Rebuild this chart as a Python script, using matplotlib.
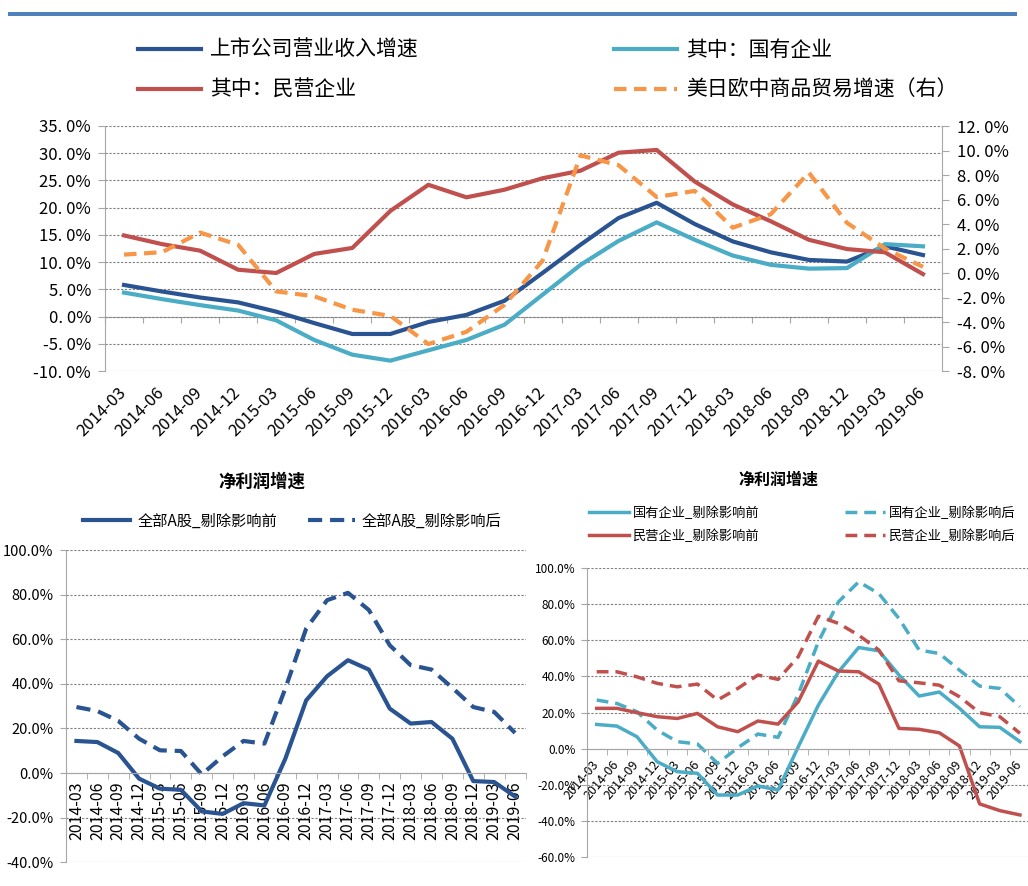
import numpy as np
import matplotlib
matplotlib.use('Agg')
import matplotlib.pyplot as plt
from matplotlib.patches import Rectangle
from matplotlib.ticker import MultipleLocator, FuncFormatter, NullFormatter

plt.rcParams['font.family'] = ['Noto Sans CJK SC', 'DejaVu Sans']
plt.rcParams['axes.unicode_minus'] = False

# ---- data ----
quarters = ['2014-03', '2014-06', '2014-09', '2014-12', '2015-03', '2015-06',
            '2015-09', '2015-12', '2016-03', '2016-06', '2016-09', '2016-12',
            '2017-03', '2017-06', '2017-09', '2017-12', '2018-03', '2018-06',
            '2018-09', '2018-12', '2019-03', '2019-06']

# revenue growth (%), left axis
revenue_all = [5.8, 4.6, 3.5, 2.6, 0.9, -1.2, -3.2, -3.2, -1.0, 0.3, 2.9,
               8.0, 13.2, 18.1, 20.9, 17.0, 13.8, 11.8, 10.4, 10.1, 12.9, 11.3]
revenue_soe = [4.4, 3.2, 2.1, 1.1, -0.7, -4.3, -7.0, -8.1, -6.2, -4.3, -1.5,
               4.0, 9.5, 13.9, 17.3, 14.1, 11.2, 9.5, 8.8, 8.9, 13.3, 12.9]
revenue_private = [14.9, 13.3, 12.1, 8.6, 8.0, 11.5, 12.6, 19.4, 24.2, 21.9, 23.3,
                   25.4, 26.8, 30.1, 30.6, 24.8, 20.6, 17.5, 14.1, 12.4, 11.8, 7.8]
# US/Japan/EU/China goods trade growth (%), right axis
trade_growth = [1.5, 1.7, 3.3, 2.3, -1.5, -1.9, -3.0, -3.5, -5.8, -4.8, -2.6,
                1.0, 9.6, 8.8, 6.2, 6.7, 3.7, 4.8, 8.2, 4.1, 2.0, 0.5]

# net profit growth (%), all A shares
profit_all_before = [14.4, 13.9, 9.0, -2.5, -7.0, -7.5, -17.2, -18.3, -13.5, -14.5, 6.4,
                     32.6, 43.4, 50.6, 46.4, 28.9, 22.2, 22.9, 15.4, -3.6, -4.0, -10.5]
profit_all_after = [29.6, 27.8, 23.4, 15.4, 10.2, 9.9, -0.6, 7.5, 14.4, 13.2, 37.9,
                    64.8, 77.5, 80.8, 73.1, 57.3, 48.4, 46.4, 38.2, 29.6, 27.4, 18.0]

# net profit growth (%), SOE vs private
profit_soe_before = [13.4, 12.5, 6.6, -7.2, -12.7, -13.6, -25.6, -25.6, -20.6, -22.8, 1.0,
                     24.1, 42.5, 55.9, 54.1, 40.7, 29.1, 31.3, 22.3, 12.1, 11.8, 3.9]
profit_soe_after = [26.9, 25.0, 20.4, 10.3, 3.9, 2.6, -8.1, 0.5, 8.1, 6.3, 30.0,
                    59.1, 81.2, 92.2, 85.7, 71.9, 54.5, 52.6, 43.4, 34.6, 33.3, 23.2]
profit_private_before = [22.3, 22.3, 19.9, 17.7, 16.7, 19.5, 12.1, 9.4, 15.3, 13.6, 25.9,
                         48.4, 42.9, 42.5, 35.7, 11.2, 10.7, 8.8, 1.5, -30.5, -34.2, -36.6]
profit_private_after = [42.5, 42.5, 39.7, 36.1, 34.2, 35.7, 26.9, 33.3, 40.7, 38.3, 50.8,
                        73.2, 69.2, 62.7, 54.5, 37.5, 36.4, 35.1, 28.7, 19.9, 17.7, 8.5]

DARK = '#2A5491'
LIGHT = '#4BACC6'
RED = '#C0504D'
ORANGE = '#F79646'
GRID = '#7F7F7F'
AXIS = '#A6A6A6'

W, H = 1028, 886
fig = plt.figure(figsize=(W / 100, H / 100), dpi=100)


def frac(left, top, right, bottom):
    return [left / W, 1 - bottom / H, (right - left) / W, (bottom - top) / H]


def pct_spaced(v, pos):
    return f'{v:.1f}%'.replace('.', '. ')


def pct(v, pos):
    return f'{v:.1f}%'


x = np.arange(len(quarters))
bounds = np.arange(-0.5, len(quarters), 1.0)

# header stripe
fig.add_artist(Rectangle((8 / W, 1 - 16 / H), 1009 / W, 4 / H,
                         transform=fig.transFigure, color='#4F81BD', lw=0))

# ================= top chart =================
ax = fig.add_axes(frac(105, 126, 942, 371))
l_all, = ax.plot(x, revenue_all, color=DARK, lw=3, label='上市公司营业收入增速')
l_soe, = ax.plot(x, revenue_soe, color=LIGHT, lw=3, label='其中：国有企业')
l_pri, = ax.plot(x, revenue_private, color=RED, lw=3, label='其中：民营企业')
ax.set_xlim(-0.5, len(quarters) - 0.5)
ax.set_ylim(-10, 35)
ax.yaxis.set_major_locator(MultipleLocator(5))
ax.yaxis.set_major_formatter(FuncFormatter(pct_spaced))
ax.grid(axis='y', color=GRID, ls=(0, (2, 1.5)), lw=0.8)
ax.set_axisbelow(True)
for s in ['top', 'bottom']:
    ax.spines[s].set_visible(False)
ax.spines['left'].set_color(AXIS)
ax.spines['right'].set_visible(False)
ax.set_xticks(x)
ax.set_xticklabels(quarters, rotation=45, ha='right', va='center',
                   rotation_mode='anchor', fontsize=12)
ax.tick_params(axis='x', length=0, pad=14)
ax.tick_params(axis='y', length=5, color=AXIS, labelsize=12, pad=5)

zero_loc = (0 - ax.get_ylim()[0]) / (ax.get_ylim()[1] - ax.get_ylim()[0])
sec = ax.secondary_xaxis(zero_loc)
sec.set_xticks(bounds)
sec.xaxis.set_major_formatter(NullFormatter())
sec.tick_params(length=4, color=AXIS, direction='out')
sec.spines['bottom'].set_color(AXIS)

ax2 = ax.twinx()
l_trade, = ax2.plot(x, trade_growth, color=ORANGE, lw=3, ls=(0, (3, 1.8)),
                    label='美日欧中商品贸易增速（右）')
ax2.set_ylim(-8, 12)
ax2.yaxis.set_major_locator(MultipleLocator(2))
ax2.yaxis.set_major_formatter(FuncFormatter(pct_spaced))
for s in ['top', 'bottom', 'left']:
    ax2.spines[s].set_visible(False)
ax2.spines['right'].set_color(AXIS)
ax2.tick_params(axis='y', length=5, color=AXIS, labelsize=12, pad=6)

fig.legend(handles=[l_all, l_pri, l_soe, l_trade], ncol=2, loc='center left',
           bbox_to_anchor=(138 / W, 1 - 70 / H), frameon=False, fontsize=15,
           handlelength=3.0, handletextpad=0.45, columnspacing=9.4,
           labelspacing=0.85, borderpad=0, borderaxespad=0)

# ================= bottom-left chart =================
axL = fig.add_axes(frac(66, 550, 525.5, 862.3))
b1, = axL.plot(x, profit_all_before, color=DARK, lw=3, label='全部A股_剔除影响前')
b2, = axL.plot(x, profit_all_after, color=DARK, lw=3, ls=(0, (3.4, 1.9)),
               label='全部A股_剔除影响后')
axL.set_xlim(-0.5, len(quarters) - 0.5)
axL.set_ylim(-40, 100)
axL.yaxis.set_major_locator(MultipleLocator(20))
axL.yaxis.set_major_formatter(FuncFormatter(pct))
axL.grid(axis='y', color=GRID, ls=(0, (2, 1.5)), lw=0.8)
axL.set_axisbelow(True)
axL.spines['top'].set_visible(False)
axL.spines['right'].set_visible(False)
axL.spines['left'].set_color(AXIS)
axL.spines['bottom'].set_position(('data', 0))
axL.spines['bottom'].set_color(AXIS)
axL.set_xticks(x)
axL.set_xticklabels(quarters, rotation=90, ha='center', va='top', fontsize=11.5)
axL.set_xticks(bounds, minor=True)
axL.tick_params(axis='x', which='major', length=0, pad=6)
axL.tick_params(axis='x', which='minor', length=4.5, color=AXIS)
axL.tick_params(axis='y', length=4, color=AXIS, labelsize=10.5, pad=5)

fig.text(262 / W, 1 - 482 / H, '净利润增速', ha='center', va='center',
         fontsize=12.5, fontweight='bold')
fig.legend(handles=[b1, b2], ncol=2, loc='center left',
           bbox_to_anchor=(83 / W, 1 - 521 / H), frameon=False, fontsize=11,
           handlelength=3.1, handletextpad=0.45, columnspacing=2.0,
           borderpad=0, borderaxespad=0)

# ================= bottom-right chart =================
axR = fig.add_axes(frac(586.6, 567.7, 1030, 857.3))
r1, = axR.plot(x, profit_soe_before, color=LIGHT, lw=2.5, label='国有企业_剔除影响前')
r2, = axR.plot(x, profit_soe_after, color=LIGHT, lw=2.5, ls=(0, (3.4, 2)),
               label='国有企业_剔除影响后')
r3, = axR.plot(x, profit_private_before, color=RED, lw=2.5, label='民营企业_剔除影响前')
r4, = axR.plot(x, profit_private_after, color=RED, lw=2.5, ls=(0, (3.4, 2)),
               label='民营企业_剔除影响后')
axR.set_xlim(-0.5, len(quarters) - 0.5)
axR.set_ylim(-60, 100)
axR.yaxis.set_major_locator(MultipleLocator(20))
axR.yaxis.set_major_formatter(FuncFormatter(pct))
axR.grid(axis='y', color=GRID, ls=(0, (2, 1.5)), lw=0.8)
axR.set_axisbelow(True)
axR.spines['top'].set_visible(False)
axR.spines['right'].set_visible(False)
axR.spines['left'].set_color(AXIS)
axR.spines['bottom'].set_position(('data', 0))
axR.spines['bottom'].set_color(AXIS)
axR.set_xticks(x)
axR.set_xticklabels(quarters, rotation=50, ha='right', va='center',
                    rotation_mode='anchor', fontsize=9)
axR.set_xticks(bounds, minor=True)
axR.tick_params(axis='x', which='major', length=0, pad=10)
axR.tick_params(axis='x', which='minor', length=4, color=AXIS)
axR.tick_params(axis='y', length=4, color=AXIS, labelsize=8.5, pad=4)

fig.text(778 / W, 1 - 480 / H, '净利润增速', ha='center', va='center',
         fontsize=11.5, fontweight='bold')
fig.legend(handles=[r1, r3, r2, r4], ncol=2, loc='center left',
           bbox_to_anchor=(589 / W, 1 - 524.5 / H), frameon=False, fontsize=9.5,
           handlelength=3.0, handletextpad=0.3, columnspacing=6.5,
           labelspacing=0.75, borderpad=0, borderaxespad=0)

fig.savefig('out.png', dpi=100)
